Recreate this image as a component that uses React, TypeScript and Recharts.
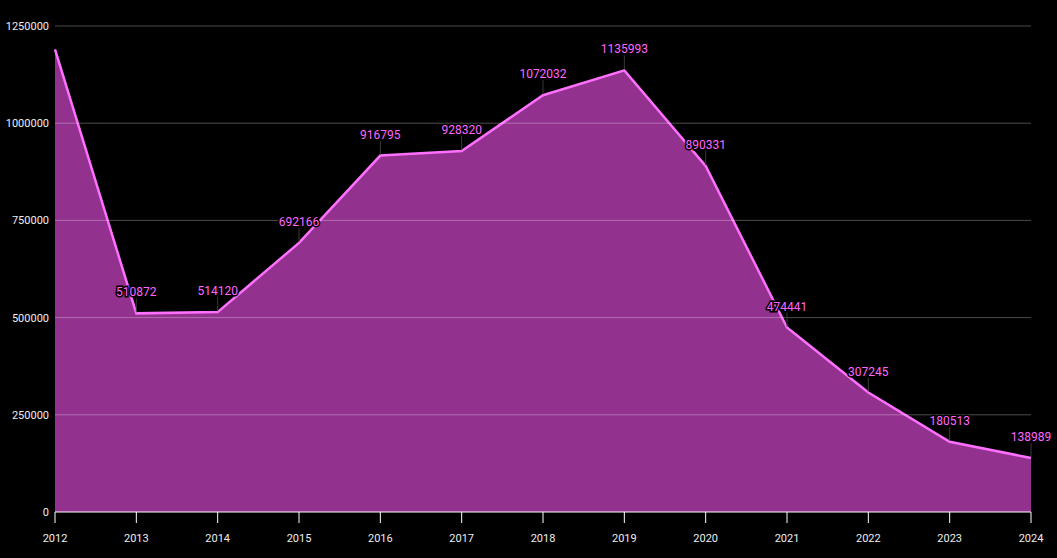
import React from 'react';
import { AreaChart, Area, XAxis, YAxis, CartesianGrid, ReferenceLine, LabelList } from 'recharts';

const years = ['2012', '2013', '2014', '2015', '2016', '2017', '2018', '2019', '2020', '2021', '2022', '2023', '2024'];
const values = [1190000, 510872, 514120, 692166, 916795, 928320, 1072032, 1135993, 890331, 474441, 307245, 180513, 138989];
const yTicks = [0, 250000, 500000, 750000, 1000000, 1250000];

const data = years.map((y, i) => ({ year: y, value: values[i] }));

const PointLabel = (props: any) => {
  const { x, y, value, index } = props;
  if (index === 0) return null;
  return (
    <g>
      <line x1={x} x2={x} y1={y - 1} y2={y - 15} stroke="#3a3a3a" strokeWidth={1} />
      <text
        x={x}
        y={y - 17}
        textAnchor="middle"
        fill="#ff66ff"
        stroke="#000"
        strokeWidth={3}
        paintOrder="stroke"
        fontSize={12}
        fontFamily="Roboto, sans-serif"
      >
        {value}
      </text>
    </g>
  );
};

export default function App() {
  return (
    <div style={{ position: 'fixed', left: 0, top: 0, width: 1057, height: 558, background: '#000' }}>
      <AreaChart width={1057} height={558} data={data} margin={{ top: 26, right: 26, bottom: 0, left: 0 }}>
        <CartesianGrid vertical={false} horizontal={false} />
        <XAxis
          dataKey="year"
          height={46}
          stroke="#fff"
          tick={{ fill: '#eee', fontSize: 11, fontFamily: 'Roboto, sans-serif' }}
          tickSize={11}
          tickMargin={11}
          axisLine={{ stroke: '#fff' }}
          tickLine={{ stroke: '#fff' }}
        />
        <YAxis
          width={55}
          domain={[0, 1250000]}
          ticks={yTicks}
          axisLine={false}
          tickLine={false}
          tickSize={4}
          tickMargin={2}
          tick={{ fill: '#eee', fontSize: 11, fontFamily: 'Roboto, sans-serif' }}
        />
        <Area
          type="linear"
          dataKey="value"
          stroke="#ff70ff"
          strokeWidth={2.5}
          fill="#92318e"
          fillOpacity={1}
          isAnimationActive={false}
          dot={false}
          activeDot={false}
        >
          <LabelList dataKey="value" content={<PointLabel />} />
        </Area>
        {yTicks.slice(1).map((t) => (
          <ReferenceLine key={t} y={t} stroke="rgba(255,255,255,0.3)" strokeWidth={1} />
        ))}
      </AreaChart>
    </div>
  );
}
